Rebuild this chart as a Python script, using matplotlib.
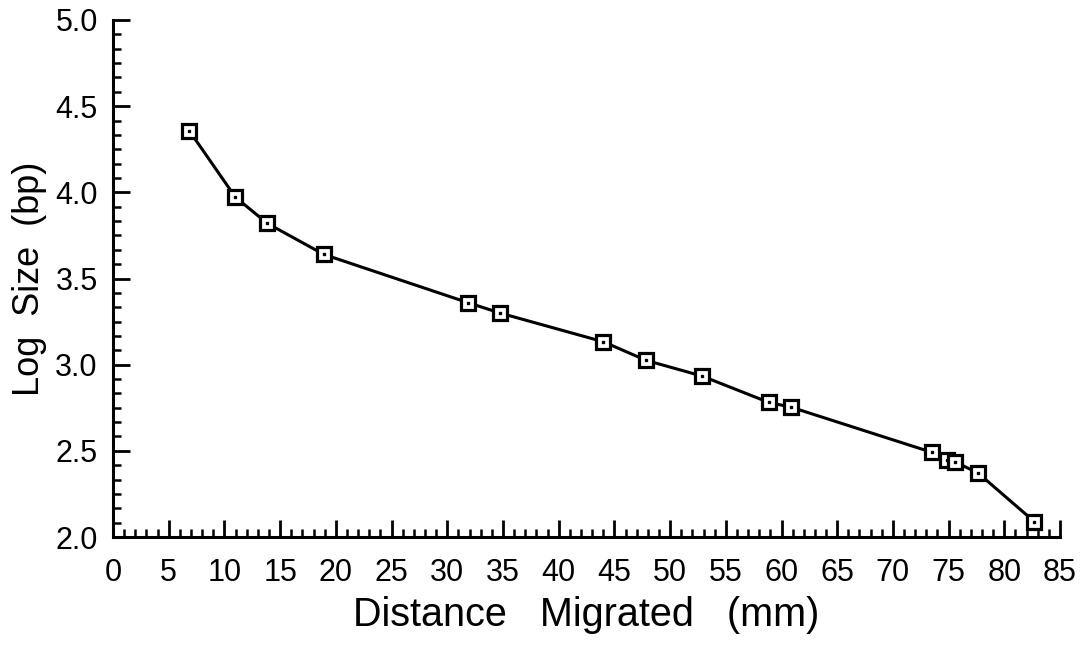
import numpy as np
import matplotlib.pyplot as plt
from matplotlib.ticker import MultipleLocator

plt.rcParams["font.family"] = ["Liberation Sans", "DejaVu Sans"]

# migration distance vs log fragment size (marker ladder)
distance_mm = [6.85, 10.98, 13.85, 18.91, 31.9, 34.77, 44.01, 47.85, 52.87,
               58.86, 60.83, 73.52, 74.89, 75.61, 77.65, 82.7]
log_size_bp = [4.357, 3.972, 3.82, 3.64, 3.359, 3.299, 3.133, 3.025, 2.934,
               2.781, 2.754, 2.491, 2.447, 2.435, 2.371, 2.089]

x_ticks = list(range(0, 90, 5))
y_ticks = [2.0, 2.5, 3.0, 3.5, 4.0, 4.5, 5.0]

fig = plt.figure(figsize=(10.89, 6.45), dpi=100)
ax = fig.add_axes([0.1038, 0.1674, 0.8696, 0.8016])

ax.plot(distance_mm, log_size_bp, color="black", linewidth=2.2,
        marker="s", markersize=9.5, markerfacecolor="white",
        markeredgecolor="black", markeredgewidth=2.3, zorder=3)
ax.plot(distance_mm, log_size_bp, linestyle="none", marker="s",
        markersize=1.8, color="black", zorder=4)

ax.set_xlim(0, 85)
ax.set_ylim(2.0, 5.0)
ax.set_xticks(x_ticks)
ax.set_yticks(y_ticks)
ax.set_yticklabels([f"{v:.1f}" for v in y_ticks])
ax.xaxis.set_minor_locator(MultipleLocator(1))
ax.yaxis.set_minor_locator(MultipleLocator(0.5 / 6))

for side in ["top", "right"]:
    ax.spines[side].set_visible(False)
for side in ["left", "bottom"]:
    ax.spines[side].set_linewidth(2.2)

ax.tick_params(which="major", direction="in", length=12, width=2.0,
               labelsize=22)
ax.tick_params(which="minor", direction="in", length=6, width=1.8)
ax.tick_params(axis="x", which="major", pad=15)
ax.tick_params(axis="y", which="major", pad=11)

ax.set_xlabel("Distance   Migrated   (mm)", fontsize=28.5, labelpad=6)
ax.set_ylabel("Log  Size  (bp)", fontsize=26, labelpad=6)

fig.savefig("out.png", dpi=100)
